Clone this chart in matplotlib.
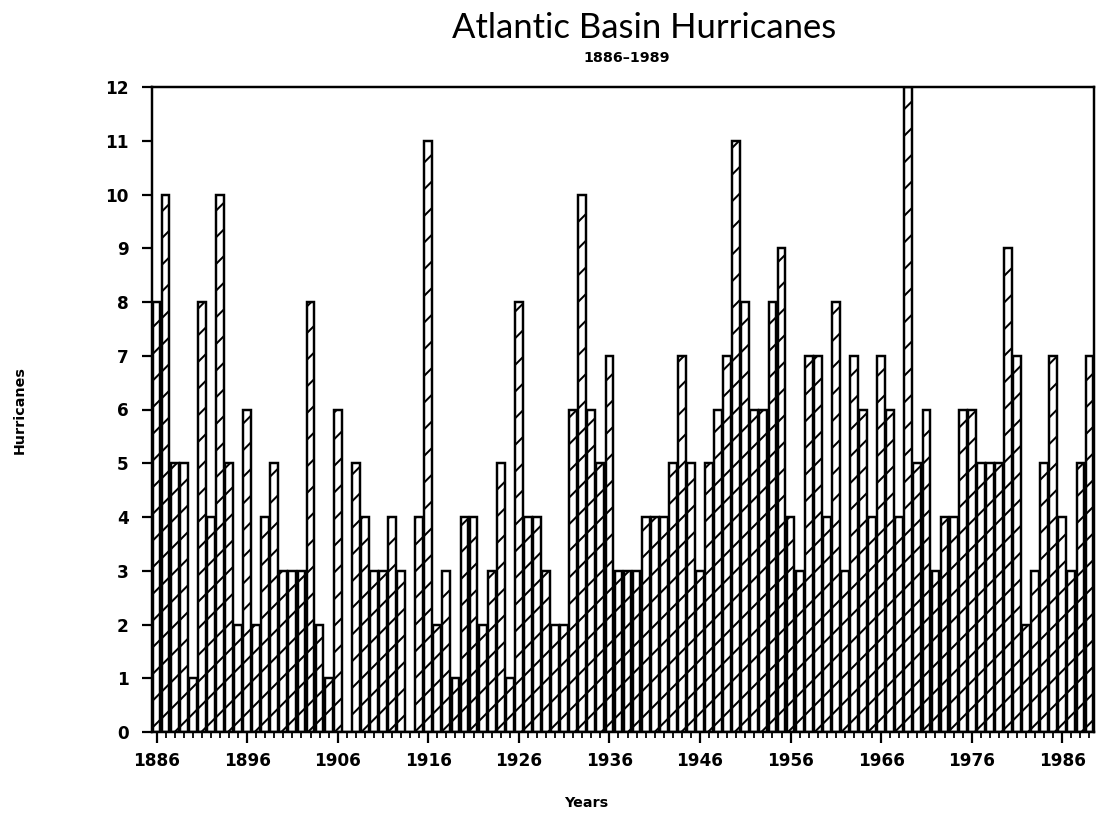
import numpy as np
import matplotlib
matplotlib.use("Agg")
import matplotlib.pyplot as plt

# ---- data ----
first_year = 1886
last_year = 1989
hurricanes = [
    8, 10, 5, 5, 1, 8, 4, 10, 5, 2,      # 1886-1895
    6, 2, 4, 5, 3, 3, 3, 8, 2, 1,        # 1896-1905
    6, 0, 5, 4, 3, 3, 4, 3, 0, 4,        # 1906-1915
    11, 2, 3, 1, 4, 4, 2, 3, 5, 1,       # 1916-1925
    8, 4, 4, 3, 2, 2, 6, 10, 6, 5,       # 1926-1935
    7, 3, 3, 3, 4, 4, 4, 5, 7, 5,        # 1936-1945
    3, 5, 6, 7, 11, 8, 6, 6, 8, 9,       # 1946-1955
    4, 3, 7, 7, 4, 8, 3, 7, 6, 4,        # 1956-1965
    7, 6, 4, 12, 5, 6, 3, 4, 4, 6,       # 1966-1975
    6, 5, 5, 5, 9, 7, 2, 3, 5, 7,        # 1976-1985
    4, 3, 5, 7,                          # 1986-1989
]
years = list(range(first_year, last_year + 1))
x_tick_labels = [str(y) for y in range(1886, 1990, 10)]
y_ticks = list(range(0, 13))

title = "Atlantic Basin Hurricanes"
subtitle = "1886\u20131989"
x_label = "Years"
y_label = "Hurricanes"

# ---- figure ----
DPI = 160
W, H = 1096, 820
plt.rcParams["hatch.linewidth"] = 0.9
plt.rcParams["font.family"] = ["DejaVu Sans"]

fig = plt.figure(figsize=(W / DPI, H / DPI), dpi=DPI)
ax = fig.add_axes([152 / W, 1 - 732 / H, (1094 - 152) / W, (732 - 87) / H])

ax.bar(years, hurricanes, width=0.86, color="white", edgecolor="black",
       linewidth=1.1, hatch="//", zorder=2)

ax.set_xlim(first_year - 0.5, last_year + 0.5)
ax.set_ylim(0, 12)

ax.set_yticks(y_ticks)
ax.set_yticklabels([str(v) for v in y_ticks], fontsize=7.6, fontweight="bold")
ax.set_xticks([int(s) for s in x_tick_labels])
ax.set_xticklabels(x_tick_labels, fontsize=7.6, fontweight="bold")
ax.set_xticks(years, minor=True)

ax.tick_params(axis="y", direction="out", length=4.5, width=1.0, pad=6)
ax.tick_params(axis="x", which="major", direction="out", length=5, width=1.0, pad=4)
ax.tick_params(axis="x", which="minor", direction="out", length=2.5, width=0.8)

for sp in ax.spines.values():
    sp.set_linewidth(1.1)

fig.text(644 / W, 1 - 28 / H, title, ha="center", va="center",
         fontsize=15.6, fontweight="normal", color="black",
         family=["Lato", "DejaVu Sans"])
fig.text(627 / W, 1 - 58 / H, subtitle, ha="center", va="center",
         fontsize=6.4, fontweight="bold")
fig.text(586 / W, 1 - 803 / H, x_label, ha="center", va="center",
         fontsize=6.4, fontweight="bold")
fig.text(20 / W, 1 - 410 / H, y_label, ha="center", va="center",
         rotation=90, fontsize=6.4, fontweight="bold")

fig.savefig("out.png", dpi=DPI)
